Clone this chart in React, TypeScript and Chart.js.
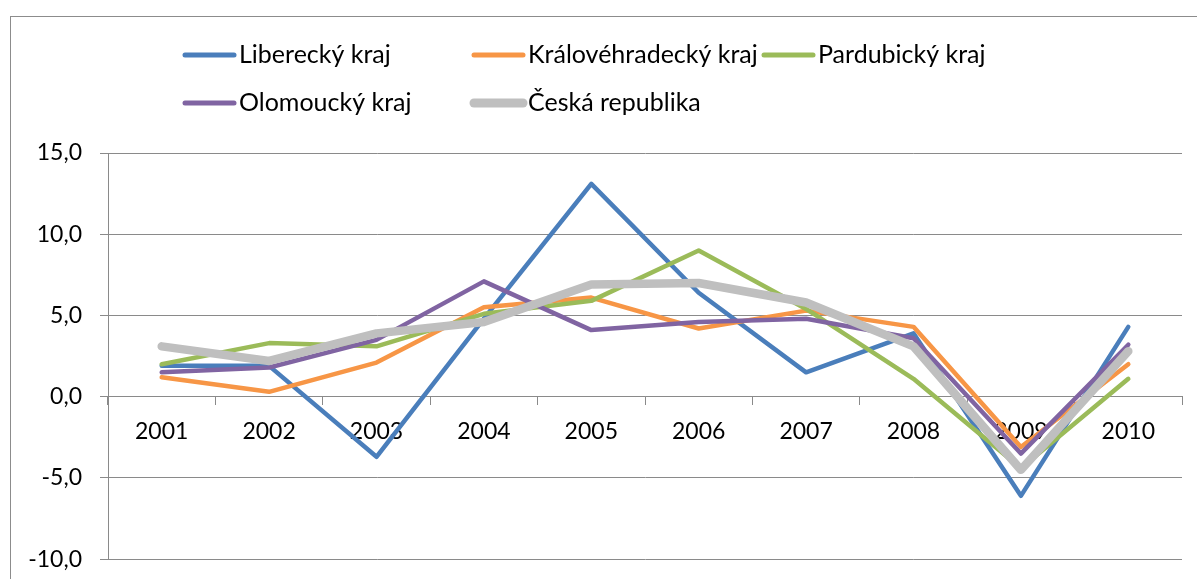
import React, { useEffect, useRef } from "react";
import { Chart, registerables } from "chart.js";

Chart.register(...registerables);

const years = ["2001", "2002", "2003", "2004", "2005", "2006", "2007", "2008", "2009", "2010"];
const seriesNames = ["Liberecký kraj", "Královéhradecký kraj", "Pardubický kraj", "Olomoucký kraj", "Česká republika"];
const liberecky = [1.9, 1.9, -3.7, 4.8, 13.1, 6.4, 1.5, 3.9, -6.1, 4.3];
const kralovehradecky = [1.2, 0.3, 2.1, 5.5, 6.1, 4.2, 5.3, 4.3, -3.1, 2.0];
const pardubicky = [2.0, 3.3, 3.1, 5.1, 5.9, 9.0, 5.4, 1.1, -4.4, 1.1];
const olomoucky = [1.5, 1.8, 3.5, 7.1, 4.1, 4.6, 4.8, 3.6, -3.5, 3.2];
const ceskaRepublika = [3.1, 2.2, 3.9, 4.6, 6.9, 7.0, 5.8, 3.1, -4.5, 2.8];
const yTicks = [-10, -5, 0, 5, 10, 15];

const colors = ["#4A7EBB", "#F79646", "#9BBB59", "#8064A2", "#BFBFBF"];
const widths = [4.5, 4.5, 4.5, 4.5, 8.5];
const FONT = "Lato";
const GRID = "#8a8a8a";
const CANVAS_H = 591;

export default function App() {
  const ref = useRef<HTMLCanvasElement | null>(null);

  useEffect(() => {
    if (!ref.current) return;
    const values = [liberecky, kralovehradecky, pardubicky, olomoucky, ceskaRepublika];

    const frame = {
      id: "frame",
      beforeDraw(chart: any) {
        const ctx = chart.ctx;
        ctx.save();
        ctx.fillStyle = "#ffffff";
        ctx.fillRect(0, 0, chart.width, chart.height);
        ctx.strokeStyle = "#8c8c8c";
        ctx.lineWidth = 1;
        ctx.strokeRect(10.5, 16.5, chart.width + 50, chart.height + 50);
        ctx.restore();
      },
    };

    const legendPlugin = {
      id: "customLegend",
      afterDraw(chart: any) {
        const ctx = chart.ctx;
        const cols = [183, 472, 762];
        const rows = [55, 103];
        ctx.save();
        ctx.font = `25px ${FONT}`;
        ctx.textBaseline = "middle";
        ctx.textAlign = "left";
        chart.data.datasets.forEach((ds: any, i: number) => {
          const x = cols[i % 3];
          const y = rows[Math.floor(i / 3)];
          ctx.strokeStyle = ds.borderColor;
          ctx.lineWidth = ds.borderWidth + 0.5;
          ctx.lineCap = "round";
          ctx.beginPath();
          ctx.moveTo(x + 2, y);
          ctx.lineTo(x + 51, y);
          ctx.stroke();
          ctx.fillStyle = "#000000";
          ctx.fillText(ds.label, x + 56, y);
        });
        ctx.restore();
      },
    };

    const chart = new Chart(ref.current, {
      type: "line",
      data: {
        labels: years,
        datasets: seriesNames.map((name, i) => ({
          label: name,
          data: values[i],
          borderColor: colors[i],
          backgroundColor: colors[i],
          borderWidth: widths[i],
          pointRadius: 0,
          pointHoverRadius: 0,
          tension: 0,
          borderCapStyle: "round",
          borderJoinStyle: "round",
          fill: false,
          order: seriesNames.length - i,
        })),
      },
      options: {
        responsive: false,
        animation: false,
        devicePixelRatio: 1,
        layout: { padding: { top: 153, left: 10, right: 15, bottom: 9 } },
        plugins: {
          legend: { display: false },
          tooltip: { enabled: false },
        },
        scales: {
          x: {
            type: "category",
            position: { y: 0 },
            offset: true,
            afterFit: (s: any) => {
              s.height = 0;
            },
            grid: {
              offset: true,
              drawOnChartArea: false,
              drawTicks: true,
              tickLength: 8,
              color: GRID,
              lineWidth: 1,
            },
            border: { display: true, color: GRID, width: 1 },
            ticks: {
              color: "#000000",
              font: { family: FONT, size: 23 },
              padding: 13,
              maxRotation: 0,
              autoSkip: false,
            },
          },
          y: {
            min: -10,
            max: 15,
            afterFit: (s: any) => {
              s.width = 98;
            },
            afterBuildTicks: (s: any) => {
              s.ticks = yTicks.map((v) => ({ value: v }));
            },
            grid: {
              color: GRID,
              lineWidth: 1,
              tickLength: 8,
              drawTicks: true,
            },
            border: { display: true, color: GRID, width: 1 },
            ticks: {
              color: "#000000",
              font: { family: FONT, size: 23 },
              padding: 18,
              callback: (v: any) => Number(v).toFixed(1).replace(".", ","),
            },
          },
        },
      },
      plugins: [frame, legendPlugin],
    } as any);

    return () => chart.destroy();
  }, []);

  return (
    <div style={{ position: "fixed", left: 0, top: 0, width: 1197, height: 579, overflow: "hidden", background: "#fff" }}>
      <canvas ref={ref} width={1197} height={CANVAS_H} style={{ display: "block", width: 1197, height: CANVAS_H }} />
    </div>
  );
}
